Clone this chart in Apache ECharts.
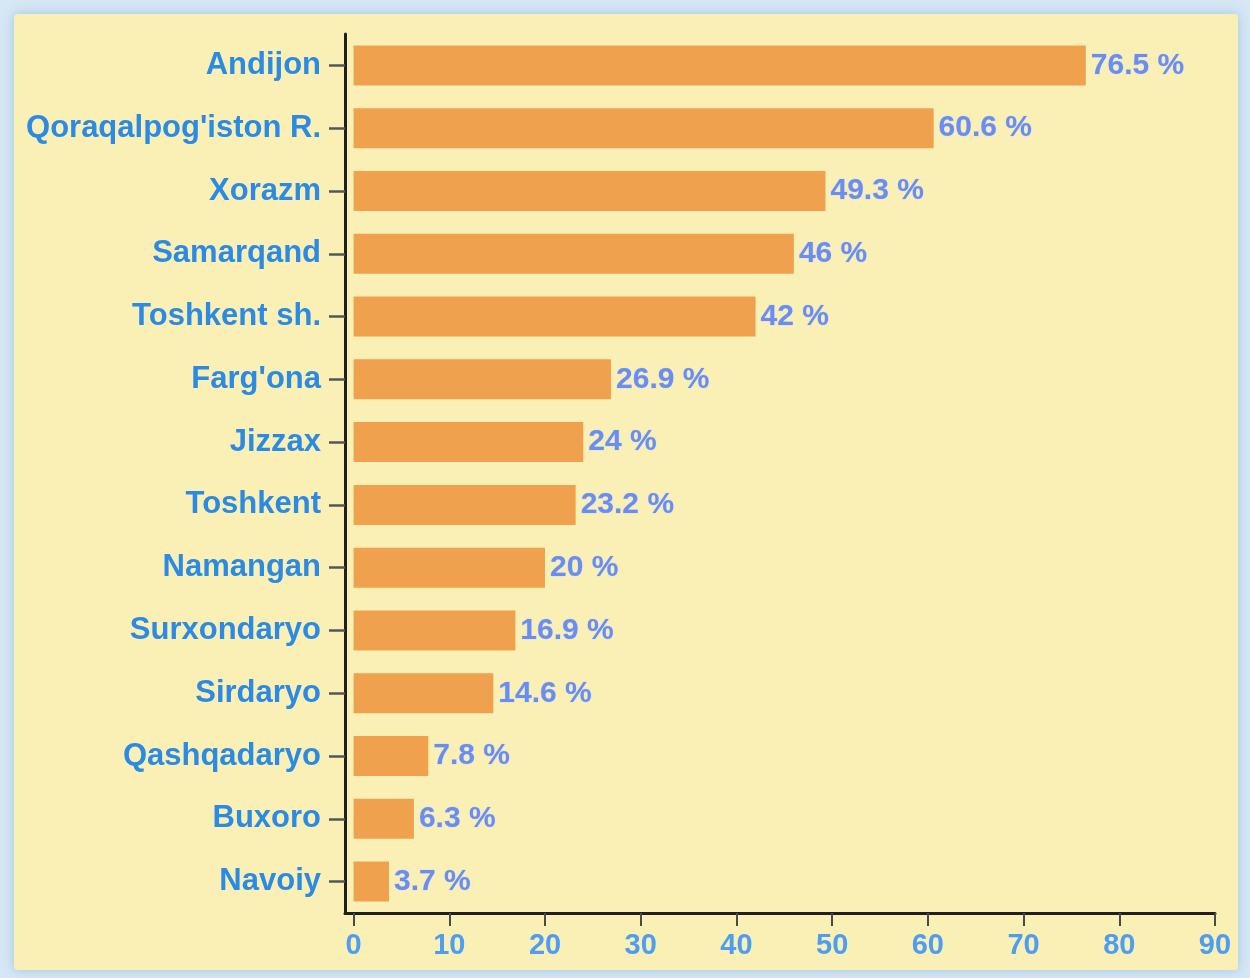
<!DOCTYPE html>
<html>
<head>
<meta charset="utf-8">
<script src="https://cdn.jsdelivr.net/npm/echarts@6/dist/echarts.min.js"></script>
<style>
  html, body { margin: 0; padding: 0; background: #d6e7f5; }
  #chart { width: 1250px; height: 978px; }
</style>
</head>
<body>
<div id="chart"></div>
<script>
// viloyatlar va ularning ulushi (%)
const regions = [
  'Andijon', "Qoraqalpog'iston R.", 'Xorazm', 'Samarqand', 'Toshkent sh.',
  "Farg'ona", 'Jizzax', 'Toshkent', 'Namangan', 'Surxondaryo',
  'Sirdaryo', 'Qashqadaryo', 'Buxoro', 'Navoiy'
];
const shares = [76.5, 60.6, 49.3, 46, 42, 26.9, 24, 23.2, 20, 16.9, 14.6, 7.8, 6.3, 3.7];
const xTicks = [0, 10, 20, 30, 40, 50, 60, 70, 80, 90];

const FONT = '"Liberation Sans", Arial, sans-serif';

const chart = echarts.init(document.getElementById('chart'));

chart.setOption({
  backgroundColor: '#d6e7f5',
  animation: false,
  graphic: [{
    type: 'rect',
    z: -10,
    shape: { x: 14, y: 14, width: 1224, height: 956, r: 4 },
    style: {
      fill: '#faf0b5',
      shadowBlur: 12,
      shadowColor: 'rgba(150,190,225,0.8)'
    }
  }],
  grid: { left: 345, right: 35, top: 34, bottom: 65, containLabel: false },
  xAxis: {
    type: 'value',
    min: -0.9,
    max: 90,
    splitLine: { show: false },
    axisLine: { show: true, lineStyle: { color: '#1f1f1f', width: 3, cap: 'round' } },
    axisTick: {
      show: true,
      customValues: xTicks,
      length: 13,
      lineStyle: { color: '#4a4a4a', width: 2 }
    },
    axisLabel: {
      customValues: xTicks,
      margin: 18,
      color: '#4d9df2',
      fontFamily: FONT,
      fontWeight: 'bold',
      fontSize: 29
    }
  },
  yAxis: {
    type: 'category',
    data: regions,
    inverse: true,
    axisLine: { show: true, onZero: false, lineStyle: { color: '#1f1f1f', width: 3, cap: 'round' } },
    axisTick: {
      show: true,
      alignWithLabel: true,
      length: 16,
      lineStyle: { color: '#555', width: 2.5 }
    },
    axisLabel: {
      margin: 24,
      padding: [4, 0, 0, 0],
      color: '#2a8ae4',
      fontFamily: FONT,
      fontWeight: 'bold',
      fontSize: 31
    }
  },
  series: [{
    type: 'bar',
    data: shares,
    barWidth: 40,
    itemStyle: { color: '#f0a14e' },
    label: {
      show: true,
      position: 'right',
      distance: 5,
      formatter: '{c} %',
      color: '#6a8ef0',
      fontFamily: FONT,
      fontWeight: 'bold',
      fontSize: 30,
      padding: [4, 0, 0, 0],
      textBorderColor: 'rgba(200,210,255,0.6)',
      textBorderWidth: 1
    }
  }]
});
</script>
</body>
</html>
